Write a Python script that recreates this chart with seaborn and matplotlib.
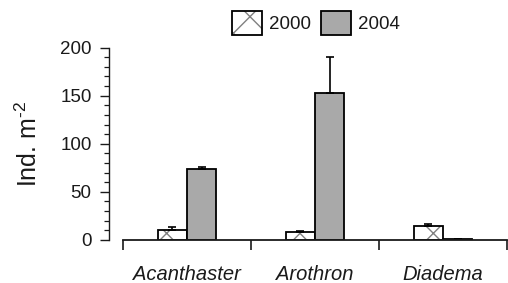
import pandas as pd
import matplotlib
import matplotlib.pyplot as plt
import seaborn as sns
from matplotlib.patches import Patch
from matplotlib.ticker import MultipleLocator

matplotlib.use('Agg')

# Donnees
species = ['Acanthaster', 'Arothron', 'Diadema']
years = ['2000', '2004']
mean_2000 = [10.5, 8.3, 14.6]
mean_2004 = [73.6, 152.8, 0.6]
err_2000 = [2.5, 0.8, 1.7]
err_2004 = [2.0, 37.0, 0.3]

df = pd.DataFrame({
    'Species': species * 2,
    'Year': [years[0]] * 3 + [years[1]] * 3,
    'Density': mean_2000 + mean_2004,
})

sns.set_theme(style="white")
plt.rcParams['font.family'] = ['Liberation Sans', 'DejaVu Sans']
plt.rcParams['mathtext.fontset'] = 'custom'
plt.rcParams['mathtext.rm'] = 'Liberation Sans'
text_col = '#1a1a1a'

fig = plt.figure(figsize=(5.08, 2.83), dpi=100)
ax = fig.add_axes([0.242, 0.152, 0.756, 0.680])

sns.barplot(data=df, x='Species', y='Density', hue='Year', hue_order=years,
            palette=['white', '#a9a9a9'], width=0.46, gap=0, errorbar=None,
            edgecolor='black', linewidth=1.3, legend=False, ax=ax)

# hachures grises sur 2000
for p in ax.containers[0]:
    p.set_hatch('x')
    p._hatch_color = (0.5, 0.5, 0.5, 1)

# barres d'erreur (vers le haut seulement)
for cont, errs in zip(ax.containers, [err_2000, err_2004]):
    xs = [p.get_x() + p.get_width() / 2 for p in cont]
    hs = [p.get_height() for p in cont]
    ax.errorbar(xs, hs, yerr=[[0] * len(errs), errs], fmt='none',
                ecolor='black', elinewidth=1.2, capsize=3, capthick=1.2, zorder=1)

ax.set_xlim(-0.5, 2.5)
ax.set_ylim(0, 200)
ax.spines['top'].set_visible(False)
ax.spines['right'].set_visible(False)
ax.spines['left'].set_position(('outward', 10))
ax.spines['left'].set_linewidth(1.0)
ax.spines['bottom'].set_linewidth(1.3)
ax.spines['left'].set_color(text_col)
ax.spines['bottom'].set_color(text_col)

ax.yaxis.set_major_locator(MultipleLocator(50))
ax.yaxis.set_minor_locator(MultipleLocator(10))
ax.tick_params(axis='y', which='major', left=True, length=6.5, width=1.0,
               pad=6, labelsize=13.5, labelcolor=text_col, color=text_col)
ax.tick_params(axis='y', which='minor', left=True, length=3.5, width=0.9, color=text_col)

ax.set_xticks([-0.5, 0.5, 1.5, 2.5])
ax.set_xticklabels([])
ax.set_xticks([0, 1, 2], minor=True)
ax.set_xticklabels(species, minor=True, style='italic', fontsize=14.5, color=text_col)
ax.tick_params(axis='x', which='major', bottom=True, length=7.5, width=1.2, color=text_col)
ax.tick_params(axis='x', which='minor', bottom=False, length=0, pad=18)

ax.set_xlabel('')
ax.set_ylabel(r'Ind. m$^{\mathrm{\text{-}2}}$', fontsize=18, color=text_col, labelpad=13)

h2000 = Patch(facecolor='white', edgecolor='black', hatch='x', linewidth=1.3)
h2000._hatch_color = (0.5, 0.5, 0.5, 1)
h2004 = Patch(facecolor='#a9a9a9', edgecolor='black', linewidth=1.3)
fig.legend(handles=[h2000, h2004], labels=years, ncol=2, frameon=False,
           loc='center', bbox_to_anchor=(0.622, 0.92), fontsize=13.5,
           handlelength=1.6, handleheight=1.6, handletextpad=0.4,
           columnspacing=0.5, labelcolor=text_col)

plt.savefig("out.png", dpi=100)
